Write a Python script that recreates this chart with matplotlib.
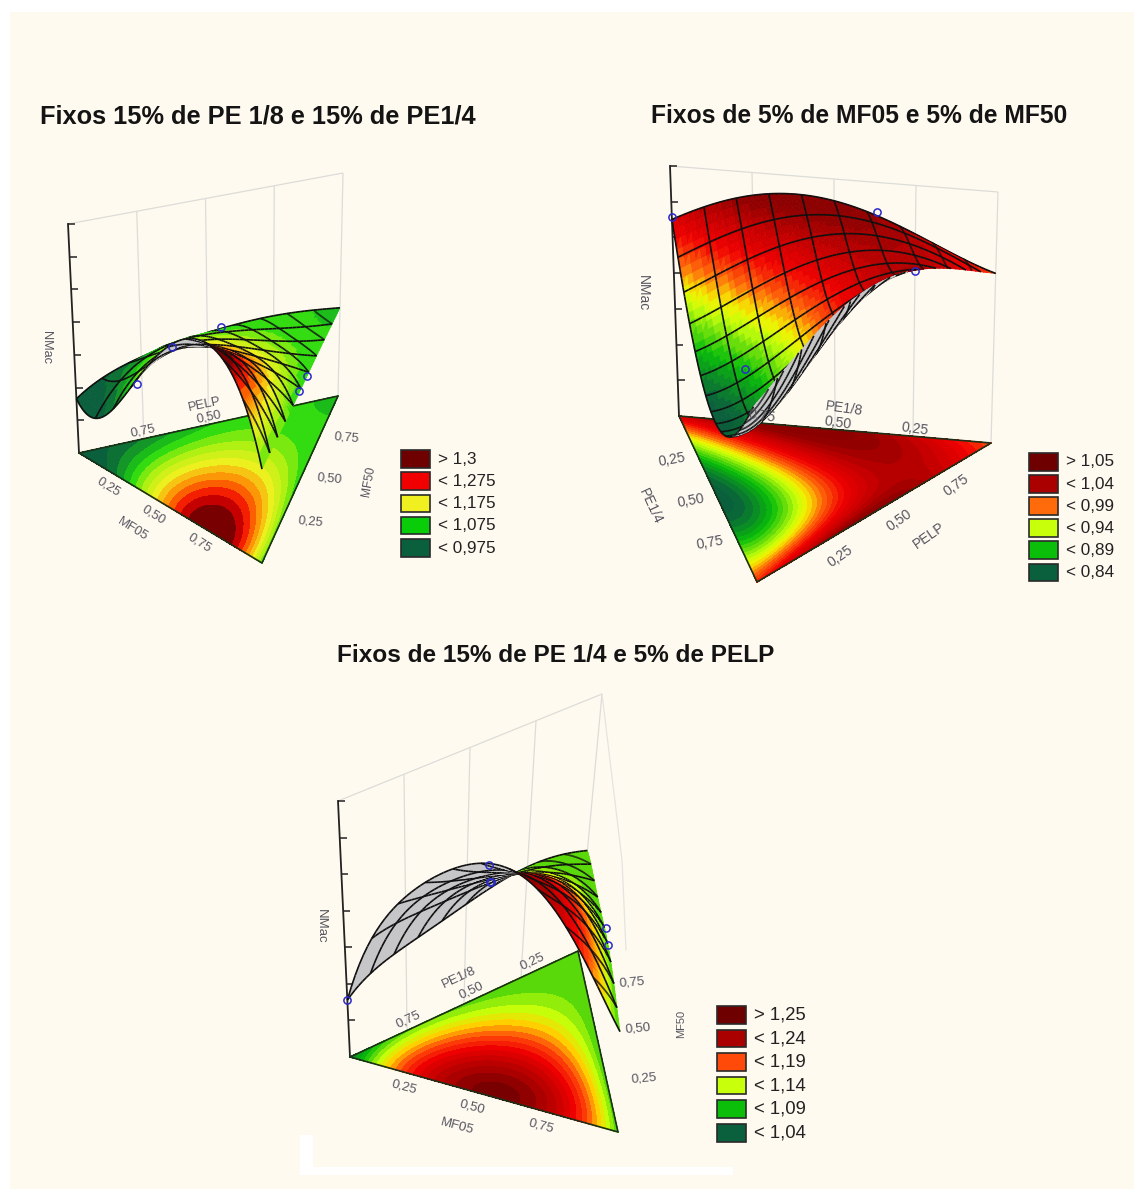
import numpy as np
import matplotlib
matplotlib.use('Agg')
import matplotlib.pyplot as plt
import matplotlib.tri as mtri
from matplotlib.collections import PolyCollection, LineCollection
from matplotlib.colors import LinearSegmentedColormap

plt.rcParams['font.family'] = ['Liberation Sans', 'DejaVu Sans']

BG = '#fffaf0'
GRAY = '#c6c6c8'

# NMac on a ternary grid, one row per sixth of the
# third component (c = 0 ... 6/6), b rising along the row
nmac_1 = [[0.96, 0.98, 1.09, 1.24, 1.31, 1.31, 1.06],
          [0.985, 1.07, 1.19, 1.30, 1.26, 1.08],
          [1.02, 1.09, 1.20, 1.19, 1.07],
          [1.045, 1.12, 1.12, 1.06],
          [1.055, 1.07, 1.05],
          [1.055, 1.05],
          [1.045]]
nmac_2 = [[1.054, 0.915, 0.87, 0.83, 0.85, 0.93, 1.01],
          [1.09, 1.00, 0.91, 0.88, 0.93, 1.055],
          [1.11, 1.04, 0.98, 1.00, 1.095],
          [1.11, 1.08, 1.06, 1.10],
          [1.08, 1.07, 1.09],
          [1.04, 1.055],
          [1.00]]
nmac_3 = [[1.05, 1.165, 1.22, 1.25, 1.25, 1.187, 1.10],
          [1.097, 1.17, 1.23, 1.235, 1.20, 1.10],
          [1.11, 1.16, 1.19, 1.16, 1.10],
          [1.105, 1.135, 1.14, 1.10],
          [1.10, 1.115, 1.10],
          [1.105, 1.10],
          [1.10]]

# heights of the floating surfaces
surf_1 = [[0.96, 0.97, 1.095, 1.23, 1.29, 1.26, 1.06],
          [1.015, 1.08, 1.16, 1.20, 1.205, 1.055],
          [1.04, 1.105, 1.13, 1.135, 1.055],
          [1.055, 1.095, 1.10, 1.05],
          [1.06, 1.06, 1.05],
          [1.06, 1.05],
          [1.045]]
surf_3 = [[1.05, 1.162, 1.222, 1.245, 1.247, 1.186, 1.10],
          [1.075, 1.16, 1.20, 1.216, 1.195, 1.11],
          [1.088, 1.155, 1.184, 1.18, 1.12],
          [1.098, 1.146, 1.155, 1.112],
          [1.11, 1.132, 1.112],
          [1.11, 1.105],
          [1.10]]

# experimental points: a, b, c, NMac
points_1 = [(2/3, 1/3, 0, 1.09), (0.47, 0.53, 0, 1.235), (0.45, 0, 0.55, 1.0625),
            (0, 0.42, 0.58, 1.05), (0, 0.52, 0.48, 1.055)]
points_2 = [(1, 0, 0, 1.054), (0.37, 0, 0.63, 1.094), (0, 0.335, 0.665, 1.09),
            (0.1, 0.9, 0, 1.05)]
points_3 = [(1, 0, 0, 1.05), (0.47, 0.53, 0, 1.25), (0.47, 0.53, 0, 1.23),
            (0.40, 0, 0.60, 1.112), (0, 0.55, 0.45, 1.125), (0, 0.6, 0.4, 1.116)]

legend_1 = ['> 1,3', '< 1,275', '< 1,175', '< 1,075', '< 0,975']
legend_2 = ['> 1,05', '< 1,04', '< 0,99', '< 0,94', '< 0,89', '< 0,84']
legend_3 = ['> 1,25', '< 1,24', '< 1,19', '< 1,14', '< 1,09', '< 1,04']

swatch_1 = ['#6e0000', '#f00000', '#f0f020', '#0acd0a', '#0a5f3c']
swatch_2 = ['#6e0000', '#aa0000', '#ff6a0a', '#c8ff0a', '#0abe0a', '#0a5f3c']
swatch_3 = ['#6e0000', '#aa0000', '#ff4a0a', '#c8ff0a', '#0abe0a', '#0a5f3c']

stops_1 = [0.975, 1.055, 1.10, 1.165, 1.225, 1.275, 1.31]
ramp_1 = ['#0a5f3c', '#20d810', '#a0f010', '#f0f020', '#ff8000', '#f00000', '#780000']
stops_2 = [0.84, 0.89, 0.94, 0.96, 0.99, 1.03, 1.07, 1.10]
ramp_2 = ['#0a5f3c', '#0abe0a', '#c8ff0a', '#f5f000', '#ff6a0a', '#f00000', '#c00000', '#8c0000']
stops_3 = [1.04, 1.09, 1.125, 1.145, 1.17, 1.195, 1.235, 1.26]
ramp_3 = ['#0a5f3c', '#0abe0a', '#c8ff0a', '#ffd000', '#ff4a0a', '#f00000', '#aa0000', '#6e0000']
step_1, step_2, step_3 = 0.025, 0.01, 0.01

fig = plt.figure(figsize=(11.34, 11.89), dpi=100, facecolor='white')
ax = fig.add_axes([0, 0, 1, 1])
ax.set_xlim(0, 1134)
ax.set_ylim(1189, 0)
ax.axis('off')

# cream sheet, white margin top and left
ax.add_patch(plt.Rectangle((10, 12), 1124, 1177, fc=BG, ec='none', zorder=0))
ax.add_patch(plt.Rectangle((300, 1167), 433, 8, fc='white', ec='none', zorder=0.5))
ax.add_patch(plt.Rectangle((300, 1135), 13, 40, fc='white', ec='none', zorder=0.5))


def lattice(n):
    pts = [(n - b - c, b, c) for c in range(n + 1) for b in range(n + 1 - c)]
    idx = {p: i for i, p in enumerate(pts)}
    tris = []
    for c in range(n):
        for b in range(n - c):
            tris.append((idx[(n - b - c, b, c)], idx[(n - b - c - 1, b + 1, c)],
                         idx[(n - b - c - 1, b, c + 1)]))
            if b + c < n - 1:
                tris.append((idx[(n - b - c - 1, b + 1, c)],
                             idx[(n - b - c - 2, b + 1, c + 1)],
                             idx[(n - b - c - 1, b, c + 1)]))
    return np.array(pts, float) / n, np.array(tris), idx


def design(w, deg):
    return np.column_stack([w[:, 1] ** i * w[:, 2] ** j
                            for i in range(deg + 1) for j in range(deg + 1 - i)])


def flat(table):
    return np.array([x for row in table for x in row])


def draw_panel(table, surf, deg_s, points, corners, leans, ztop, z0, v0, scale, stops, ramp, step,
               swatches, wall_top, labels, legend, leg_x, leg_y, leg_dy, leg_fs, b_div=10):
    corners = np.array(corners, float)
    leans = np.array(leans)

    def project(w, v):
        base = w @ corners
        h = z0 + (v - v0) * scale
        return base[..., 0] + h * (w @ leans), base[..., 1] - h

    # response surfaces fitted through the tables
    w, _, _ = lattice(6)
    coef = np.linalg.lstsq(design(w, 4), flat(table), rcond=None)[0]
    coef_s = np.linalg.lstsq(design(w, deg_s), flat(surf), rcond=None)[0]

    N = 60
    wf, trisf, idxf = lattice(N)
    vf = design(wf, 4) @ coef
    sf = design(wf, deg_s) @ coef_s

    levels = np.arange(stops[0], stops[-1] + step / 2, step)
    cmap = LinearSegmentedColormap.from_list(
        'nm', [((s - stops[0]) / (stops[-1] - stops[0]), c) for s, c in zip(stops, ramp)])
    band = [ramp[0]] + [cmap((l - stops[0] + step / 2) / (stops[-1] - stops[0])) for l in levels[:-1]] + [ramp[-1]]

    # walls
    A, B, C = corners
    top_l, top_r = np.array(ztop), np.array(wall_top)
    grid = []
    for f in (0.25, 0.5, 0.75):
        grid.append([A + (C - A) * f, top_l + (top_r - top_l) * f])
    grid.append([C, top_r])
    grid.append([top_l, top_r])
    ax.add_collection(LineCollection(grid, colors='#dcdcd8', linewidths=0.9, zorder=1))
    ax.plot([A[0], top_l[0]], [A[1], top_l[1]], color='#222222', lw=1.3, zorder=2)
    ticks = [[A + (top_l - A) * i / 7, A + (top_l - A) * i / 7 + np.array([7, 0])] for i in range(1, 8)]
    ax.add_collection(LineCollection(ticks, colors='#222222', linewidths=1.1, zorder=2))

    # ground contour
    bx, by = wf @ corners[:, 0], wf @ corners[:, 1]
    tri_ground = mtri.Triangulation(bx, by, trisf)
    lev = [-9] + list(levels) + [9]
    cs = ax.tricontourf(tri_ground, vf, levels=lev, colors=band, zorder=3)
    cs.set_edgecolor('face')
    cs.set_linewidth(0.3)
    ax.plot(*np.vstack([corners, corners[:1]]).T, color='#1c3018', lw=1.2, zorder=3.5)

    # surface, painted back to front so the folds hide what they should
    sx, sy = project(wf, sf)
    items = []
    for t in trisf:
        xy = np.column_stack([sx[t], sy[t]])
        x1, y1 = xy[1] - xy[0]
        x2, y2 = xy[2] - xy[0]
        gv = np.column_stack([bx[t], by[t]])
        g1, g2 = gv[1] - gv[0], gv[2] - gv[0]
        upper = (x1 * y2 - y1 * x2) * (g1[0] * g2[1] - g1[1] * g2[0]) > 0
        col = band[np.searchsorted(levels, vf[t].mean())] if upper else GRAY
        items.append((by[t].mean(), xy, col, col, 0.5))

    # mesh: levels of c and levels of b
    lines = []
    s = np.linspace(0, 1, N + 1)
    for c in np.arange(0, 10) / 10:
        lines.append(np.column_stack([(1 - c) * (1 - s), (1 - c) * s, np.full_like(s, c)]))
    for b in np.arange(0, b_div) / b_div:
        lines.append(np.column_stack([(1 - b) * (1 - s), np.full_like(s, b), (1 - b) * s]))
    for wl in lines:
        lx, ly = project(wl, design(wl, deg_s) @ coef_s)
        ly0 = wl @ corners[:, 1]
        for i in range(N):
            xy = np.column_stack([lx[i:i + 2], ly[i:i + 2]])
            items.append((ly0[i:i + 2].mean() + 5, xy, 'none', '#101010', 1.2))
    items.sort(key=lambda e: e[0])
    pc = PolyCollection([e[1] for e in items], facecolors=[e[2] for e in items],
                        edgecolors=[e[3] for e in items], linewidths=[e[4] for e in items],
                        zorder=4)
    ax.add_collection(pc)

    # points
    pts = np.array(points)
    mx, my = project(pts[:, :3], pts[:, 3])
    ax.plot(mx, my, 'o', mfc='none', mec='#2a2ac8', mew=1.1, ms=5.2, zorder=6)

    # tick and axis labels
    for txt, x, y, rot, fs in labels:
        ax.text(x, y, txt, rotation=rot, rotation_mode='anchor', ha='center', va='center',
                fontsize=fs, color='#55555f', zorder=7)

    # legend
    for i, lab in enumerate(legend):
        y = leg_y + i * leg_dy
        ax.add_patch(plt.Rectangle((leg_x, y), 29, 17.5, fc=swatches[i], ec='#2a2a2a', lw=1.2, zorder=7))
        ax.text(leg_x + 37, y + 9, lab, fontsize=leg_fs, color='#222222', va='center', zorder=7)


def z1(x, y):
    return 30 + x / 3, 160 + y / 3


def z2(x, y):
    return 620 + x / 3, 150 + y / 3


def z3(x, y):
    return 290 + x / 2.9, 680 + y / 3


labels_1 = [(t, *z1(x, y), r, s) for t, x, y, r, s in [
    ('PELP', 525, 735, 12, 9.4), ('0,75', 340, 812, 12, 9.4), ('0,50', 537, 770, 12, 9.4),
    ('MF05', 308, 1108, -32, 9.4), ('0,25', 237, 980, -32, 9.4), ('0,50', 370, 1065, -32, 9.4),
    ('0,75', 510, 1150, -32, 9.4), ('MF50', 1015, 965, 80, 8.6), ('0,75', 950, 833, -5, 9.4),
    ('0,50', 897, 957, -5, 9.4), ('0,25', 840, 1085, -5, 9.4), ('NMac', 48, 563, -90, 9.2)]]
labels_2 = [(t, *z2(x, y), r, s) for t, x, y, r, s in [
    ('PE1/8', 672, 775, -8, 10), ('0,75', 425, 798, -8, 10.2), ('0,50', 652, 818, -8, 10.2),
    ('0,25', 885, 838, -8, 10.2), ('PE1/4', 90, 1070, -65, 10), ('0,25', 157, 930, 10, 10.2),
    ('0,50', 212, 1052, 10, 10.2), ('0,75', 270, 1178, 10, 10.2), ('PELP', 928, 1158, 35, 10),
    ('0,25', 660, 1218, 35, 10.2), ('0,50', 838, 1110, 35, 10.2), ('0,75', 1010, 1005, 35, 10.2),
    ('NMac', 68, 428, -90, 10)]]
labels_3 = [(t, *z3(x, y), r, s) for t, x, y, r, s in [
    ('PE1/8', 490, 893, 25, 9.5), ('0,25', 703, 845, 25, 9.5), ('0,50', 525, 930, 25, 9.5),
    ('0,75', 343, 1018, 25, 9.5), ('MF05', 485, 1340, -15, 9.5), ('0,25', 332, 1222, -15, 9.5),
    ('0,50', 528, 1280, -15, 9.5), ('0,75', 727, 1338, -15, 9.5), ('MF50', 1135, 1032, 90, 8),
    ('0,75', 992, 907, 5, 9.5), ('0,50', 1010, 1045, 5, 9.5), ('0,25', 1025, 1195, 5, 9.5),
    ('NMac', 90, 738, -90, 9.5)]]

draw_panel(nmac_1, surf_1, 5, points_1, [(79, 453), (262, 563), (338, 396)], [-0.048, 0.0, 0.022],
           (68, 224), 50, 0.95, 400, stops_1, ramp_1, step_1, swatch_1, (343, 173), labels_1,
           legend_1, 401, 450, 22.3, 12.3)
draw_panel(nmac_2, nmac_2, 4, points_2, [(679, 416), (757, 582), (991, 443)], [-0.036, -0.02, 0.028],
           (670, 166), 69, 0.82, 555, stops_2, ramp_2, step_2, swatch_2, (998, 192), labels_2,
           legend_2, 1029, 453, 22.1, 12.3, b_div=16)
draw_panel(nmac_3, surf_3, 5, points_3, [(350, 1057), (618, 1132), (578, 951)], [-0.047, 0.02, 0.093],
           (338, 801), 57, 1.05, 875, stops_3, ramp_3, step_3, swatch_3, (602, 694), labels_3,
           legend_3, 717, 1006, 23.6, 13.3)

# faint extra edge of the third box
ax.plot([602, 622, 626], [694, 860, 950], color='#e4e4e0', lw=0.9, zorder=1)

ax.text(40, 117, 'Fixos 15% de PE 1/8 e 15% de PE1/4', fontsize=18.3, fontweight='bold',
        color='#141414', va='center')
ax.text(651, 116, 'Fixos de 5% de MF05 e 5% de MF50', fontsize=17.7, fontweight='bold',
        color='#141414', va='center')
ax.text(337, 655, 'Fixos de 15% de PE 1/4 e 5% de PELP', fontsize=17.6, fontweight='bold',
        color='#141414', va='center')

fig.savefig('out.png', dpi=100, facecolor='white')
